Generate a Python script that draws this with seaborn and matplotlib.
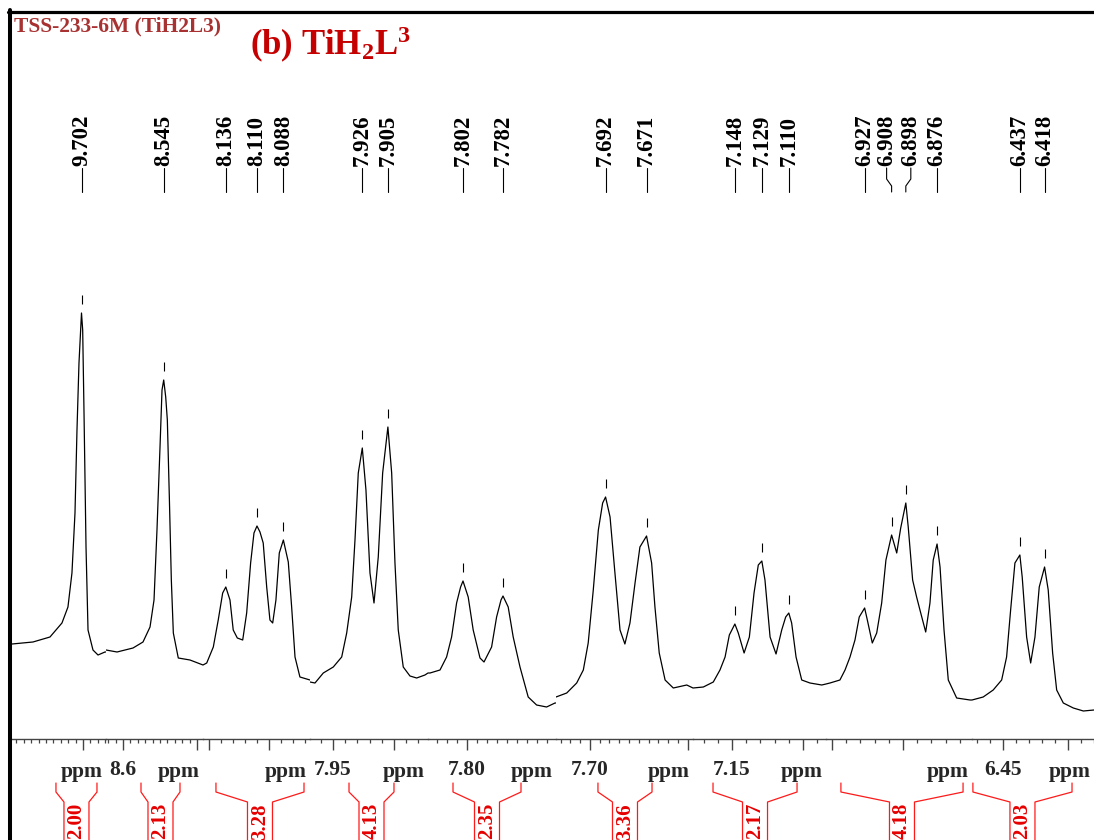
import matplotlib
matplotlib.use("Agg")
import matplotlib.pyplot as plt
from matplotlib.lines import Line2D
from matplotlib.ticker import FixedLocator, MultipleLocator
import numpy as np
import seaborn as sns

sns.set_style("white")
plt.rcParams["font.family"] = ["Liberation Serif", "DejaVu Serif"]
plt.rcParams["font.weight"] = "bold"
plt.rcParams["mathtext.fontset"] = "custom"
plt.rcParams["mathtext.rm"] = "Liberation Serif:bold"
plt.rcParams["mathtext.bf"] = "Liberation Serif:bold"
plt.rcParams["mathtext.it"] = "Liberation Serif:bold:italic"

# ---- 1H NMR trace, one window per multiplet (ppm, intensity in a.u.) ----
seg1_ppm = [9.7959, 9.7676, 9.7446, 9.7284, 9.7203, 9.7149, 9.7108, 9.7081, 9.7054,
            9.702, 9.7004, 9.6986, 9.6959, 9.6932, 9.6865, 9.6797, 9.6703, 9.6689]
seg1_int = [95, 97, 102, 116, 132, 166, 226, 309, 376, 426, 409, 326, 192, 109, 89, 84, 87, 87]

seg2_ppm = [8.6230, 8.6081, 8.5865, 8.5730, 8.5635, 8.5581, 8.5541, 8.5500, 8.5473, 8.545,
            8.5423, 8.5401, 8.5374, 8.5347, 8.5320, 8.5253, 8.5095, 8.4919]
seg2_int = [89, 87, 91, 97, 112, 139, 209, 292, 349, 359, 342, 319, 242, 159, 106, 81, 79, 74]

seg3_ppm = [8.1550, 8.1519, 8.1464, 8.1423, 8.1386, 8.136, 8.1325, 8.1298, 8.1264, 8.1219,
            8.1186, 8.1153, 8.1125, 8.110, 8.1075, 8.1048, 8.1019, 8.0992, 8.0969, 8.0942,
            8.0914, 8.088, 8.0867, 8.0839, 8.0811, 8.0783, 8.0742, 8.0658]
seg3_int = [74, 76, 92, 119, 146, 152, 139, 109, 101, 99, 126, 176, 206, 213, 207, 196, 152,
            119, 116, 139, 186, 199, 192, 177, 132, 82, 62, 59]

seg4_ppm = [7.9689, 7.9648, 7.9580, 7.9498, 7.9429, 7.9388, 7.9347, 7.9320, 7.9293, 7.926,
            7.9230, 7.9197, 7.9164, 7.9129, 7.9093, 7.905, 7.9019, 7.8992, 7.8965, 7.8924,
            7.8869, 7.8814, 7.8746, 7.8721]
seg4_int = [57, 56, 66, 72, 82, 106, 142, 199, 266, 291, 249, 166, 136, 182, 266, 312, 266,
            176, 109, 72, 63, 61, 64, 66]

seg5_ppm = [7.8195, 7.8185, 7.8135, 7.8102, 7.8077, 7.8052, 7.8032, 7.802, 7.7994, 7.7969,
            7.7935, 7.7915, 7.7877, 7.7852, 7.7830, 7.782, 7.7794, 7.7769, 7.7735, 7.7694,
            7.7652, 7.7602, 7.7560, 7.7555]
seg5_int = [66, 66, 69, 82, 102, 136, 152, 158, 142, 109, 81, 77, 92, 122, 139, 143, 132, 102,
            72, 42, 34, 32, 36, 36]

seg6_ppm = [7.7174, 7.7119, 7.7068, 7.7034, 7.7009, 7.6983, 7.6957, 7.6935, 7.692, 7.6897,
            7.6872, 7.6846, 7.6821, 7.6795, 7.6769, 7.6744, 7.671, 7.6684, 7.6667, 7.6645,
            7.6615, 7.6573, 7.6504, 7.6472]
seg6_int = [42, 46, 56, 69, 96, 149, 209, 236, 242, 222, 166, 109, 95, 116, 156, 192, 203, 176,
            132, 86, 59, 51, 54, 51]

seg7_ppm = [7.1775, 7.1702, 7.1632, 7.1585, 7.1549, 7.1519, 7.148, 7.1456, 7.1415, 7.1378,
            7.1345, 7.1315, 7.129, 7.1268, 7.1232, 7.1190, 7.1150, 7.1122, 7.110, 7.1080,
            7.1049, 7.1009, 7.0951, 7.0868, 7.0838]
seg7_int = [51, 52, 57, 69, 82, 104, 115, 106, 86, 102, 146, 174, 178, 159, 102, 85, 109, 122,
            126, 116, 82, 59, 56, 54, 55]

seg8_ppm = [6.9542, 6.9514, 6.9444, 6.9408, 6.9373, 6.9338, 6.9308, 6.927, 6.9251, 6.9216,
            6.9185, 6.9150, 6.9120, 6.908, 6.9044, 6.9016, 6.898, 6.8963, 6.8932, 6.8904,
            6.8875, 6.8840, 6.8810, 6.8787, 6.876, 6.8739, 6.8711, 6.8681, 6.8622, 6.8528, 6.8514]
seg8_int = [55, 56, 59, 69, 82, 99, 122, 131, 119, 96, 106, 136, 179, 204, 186, 211, 236, 212,
            159, 142, 126, 107, 136, 179, 195, 172, 109, 59, 41, 39, 39]

seg9_ppm = [6.4738, 6.4652, 6.4575, 6.4510, 6.4472, 6.4441, 6.4408, 6.437, 6.4352, 6.4318,
            6.4287, 6.4254, 6.4221, 6.418, 6.4152, 6.4118, 6.4087, 6.4036, 6.3959, 6.3882, 6.3800]
seg9_int = [39, 42, 49, 59, 82, 129, 176, 184, 162, 102, 76, 102, 152, 172, 149, 86, 49, 36,
            31, 28, 29]

# ppm window shown for each multiplet (left, right)
windows = [(9.7959, 9.6689), (8.6230, 8.4919), (8.1550, 8.0658), (7.9689, 7.8721),
           (7.8195, 7.7555), (7.7174, 7.6472), (7.1775, 7.0838), (6.9542, 6.8514),
           (6.4738, 6.3800)]
major_ticks = [[9.70], [8.6, 8.5], [8.15, 8.10], [7.95, 7.90], [7.80], [7.70, 7.65],
               [7.15, 7.10], [6.95, 6.90], [6.45, 6.40]]
minor_steps = [0.01, 0.01, 0.01, 0.01, 0.005, 0.005, 0.01, 0.01, 0.01]
tick_labels = {8.6: "8.6", 7.95: "7.95", 7.80: "7.80", 7.70: "7.70", 7.15: "7.15", 6.45: "6.45"}

# picked peaks
peaks = [9.702, 8.545, 8.136, 8.110, 8.088, 7.926, 7.905, 7.802, 7.782, 7.692, 7.671,
         7.148, 7.129, 7.110, 6.927, 6.908, 6.898, 6.876, 6.437, 6.418]

# integrals: region (ppm) and value
integral_ranges = [(9.7365, 9.6811), (8.5757, 8.5230), (8.1442, 8.0708), (7.9369, 7.9000),
                   (7.8070, 7.7730), (7.6959, 7.6682), (7.1634, 7.1042), (6.9437, 6.8577),
                   (6.4731, 6.3969)]
integral_values = [2.00, 2.13, 3.28, 4.13, 2.35, 3.36, 2.17, 4.18, 2.03]

seg_ppm = [seg1_ppm, seg2_ppm, seg3_ppm, seg4_ppm, seg5_ppm, seg6_ppm, seg7_ppm, seg8_ppm, seg9_ppm]
seg_int = [seg1_int, seg2_int, seg3_int, seg4_int, seg5_int, seg6_int, seg7_int, seg8_int, seg9_int]

# ---- layout (pixels) ----
W, H = 1094, 840
fig = plt.figure(figsize=(W / 100, H / 100), dpi=100)


def fx(px):
    return px / W


def fy(py):
    return 1 - py / H


edges = [12, 106, 203, 310, 428, 556, 693, 826, 972, 1094]
axis_y, top_y = 739, 13
YMAX = axis_y - top_y

axes = []
for i in range(9):
    ax = fig.add_axes([fx(edges[i]), fy(axis_y), fx(edges[i + 1] - edges[i]),
                       (axis_y - top_y) / H])
    ax.patch.set_alpha(0)
    sns.lineplot(x=seg_ppm[i], y=seg_int[i], ax=ax, color="black", linewidth=0.9,
                 estimator=None, sort=False)
    ax.set_xlim(*windows[i])
    ax.set_ylim(0, YMAX)
    ax.set_xlabel("")
    ax.set_ylabel("")
    ax.set_yticks([])
    for s in ("left", "right", "top"):
        ax.spines[s].set_visible(False)
    ax.spines["bottom"].set_color("#444444")
    ax.spines["bottom"].set_linewidth(1.0)
    ax.xaxis.set_major_locator(FixedLocator(major_ticks[i]))
    ax.set_xticklabels([tick_labels.get(t, "") for t in major_ticks[i]])
    ax.xaxis.set_minor_locator(MultipleLocator(minor_steps[i]))
    ax.tick_params(axis="x", which="both", bottom=True, top=False)
    ax.tick_params(axis="x", which="major", direction="out", length=8, width=1,
                   color="#444444", labelsize=15.5, pad=7)
    ax.tick_params(axis="x", which="minor", direction="out", length=3, width=0.9,
                   color="#444444")
    for lab in ax.get_xticklabels():
        lab.set_fontweight("bold")
    ax.annotate("ppm", xy=(1, 0), xycoords="axes fraction", xytext=(-3, -38),
                textcoords="offset pixels", ha="right", va="baseline",
                fontsize=15.5, fontweight="bold")
    axes.append(ax)


def seg_of(p):
    for i, (a, b) in enumerate(windows):
        if b <= p <= a:
            return i
    return None


def xpix(i, p):
    return axes[i].transData.transform((p, 0))[0]


# peak markers and labels
label_shift = {6.908: -5, 6.898: 5}
for p in peaks:
    i = seg_of(p)
    ax = axes[i]
    order = np.argsort(seg_ppm[i])
    h = np.interp(p, np.array(seg_ppm[i])[order], np.array(seg_int[i])[order])
    ax.vlines(p, h + 9, h + 18, color="black", linewidth=0.8)
    px = xpix(i, p)
    lx = px + label_shift.get(p, 0)
    fig.text(fx(lx), fy(166), f"{p:.3f}", rotation=90, ha="center", va="bottom",
             fontsize=16.5, fontweight="bold", color="black")
    fig.add_artist(Line2D([fx(lx), fx(lx), fx(px), fx(px)],
                          [fy(168), fy(179), fy(186), fy(192)],
                          color="black", linewidth=0.8))

# integral brackets
for (a, b), v in zip(integral_ranges, integral_values):
    i = seg_of((a + b) / 2)
    L, R = xpix(i, a), xpix(i, b)
    C = (L + R) / 2
    for end, box in ((L, C - 12.5), (R, C + 12.5)):
        fig.add_artist(Line2D([fx(end), fx(end), fx(box), fx(box)],
                              [fy(783), fy(792), fy(802), fy(845)],
                              color="#ff1a1a", linewidth=0.9))
    fig.text(fx(C), fy(803), f"{v:.2f}", rotation=90, ha="center", va="top",
             fontsize=15, fontweight="bold", color="#e60000")

# titles
fig.text(fx(14), fy(31), "TSS-233-6M (TiH2L3)", ha="left", va="baseline",
         fontsize=15.5, fontweight="bold", color="#a83232")
fig.text(fx(250), fy(55), r"(b) TiH$_{\mathbf{2}}$L$^{\mathbf{3}}$", ha="left",
         va="baseline", fontsize=25, fontweight="bold", color="#c40000")

# frame
fig.add_artist(Line2D([fx(8), fx(W)], [fy(11.5), fy(11.5)], color="black", linewidth=2.3))
fig.add_artist(Line2D([fx(10), fx(10)], [fy(10), fy(H)], color="black", linewidth=2.9))

fig.savefig("out.png", dpi=100, facecolor="white")
